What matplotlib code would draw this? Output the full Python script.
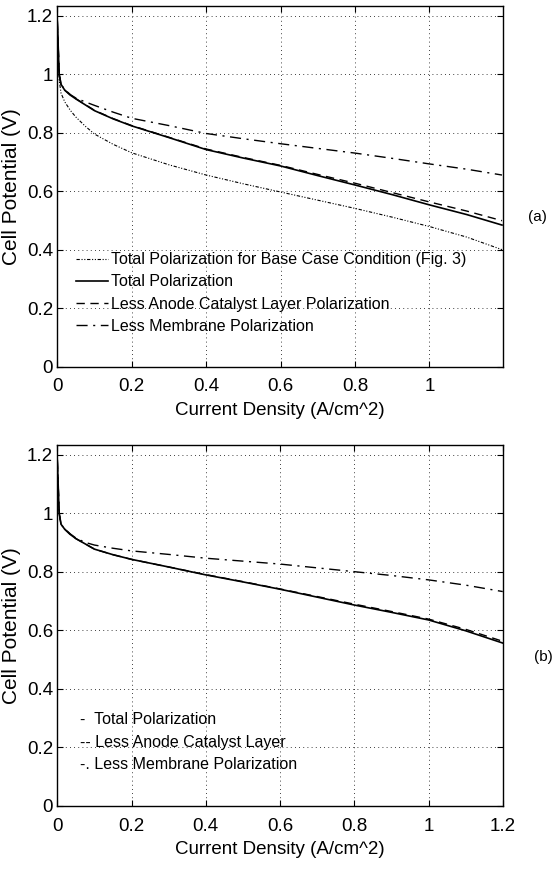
import matplotlib
matplotlib.use("Agg")
import matplotlib.pyplot as plt
import numpy as np

plt.rcParams['font.family'] = ['Liberation Sans', 'DejaVu Sans']

# ---- data ----
# (a)
xa = [0, 0.005, 0.01, 0.02, 0.035, 0.05, 0.075, 0.1, 0.15, 0.2, 0.3, 0.4,
      0.5, 0.6, 0.7, 0.8, 0.9, 1.0, 1.1, 1.195]
base_a = [1.18, 0.98, 0.935, 0.905, 0.876, 0.853, 0.822, 0.795, 0.76, 0.731,
          0.69, 0.655, 0.625, 0.597, 0.569, 0.541, 0.511, 0.479, 0.443, 0.40]
total_a = [1.18, 1.0, 0.965, 0.945, 0.928, 0.915, 0.895, 0.875, 0.847, 0.823,
           0.783, 0.742, 0.713, 0.686, 0.653, 0.621, 0.588, 0.553, 0.52, 0.484]
anode_a = [1.18, 1.0, 0.965, 0.945, 0.929, 0.916, 0.896, 0.876, 0.848, 0.824,
           0.784, 0.744, 0.715, 0.688, 0.657, 0.627, 0.595, 0.563, 0.532, 0.499]
memb_a = [1.18, 1.0, 0.965, 0.947, 0.93, 0.918, 0.905, 0.893, 0.87, 0.849,
          0.824, 0.797, 0.779, 0.762, 0.746, 0.730, 0.712, 0.693, 0.675, 0.655]
labels_a = ['Total Polarization for Base Case Condition (Fig. 3)',
            'Total Polarization',
            'Less Anode Catalyst Layer Polarization',
            'Less Membrane Polarization']

# (b)
xb = [0, 0.005, 0.01, 0.02, 0.035, 0.05, 0.075, 0.1, 0.15, 0.2, 0.3, 0.4,
      0.5, 0.6, 0.7, 0.8, 0.9, 1.0, 1.1, 1.2]
total_b = [1.18, 1.0, 0.962, 0.945, 0.927, 0.913, 0.895, 0.877, 0.858, 0.842,
           0.816, 0.789, 0.765, 0.740, 0.713, 0.686, 0.661, 0.635, 0.598, 0.556]
anode_b = [1.18, 1.0, 0.962, 0.945, 0.927, 0.913, 0.895, 0.877, 0.858, 0.842,
           0.816, 0.790, 0.766, 0.741, 0.715, 0.689, 0.664, 0.638, 0.603, 0.562]
memb_b = [1.18, 1.0, 0.962, 0.946, 0.929, 0.915, 0.90, 0.891, 0.88, 0.871,
          0.859, 0.846, 0.836, 0.826, 0.813, 0.80, 0.787, 0.772, 0.754, 0.732]
labels_b = ['-  Total Polarization',
            '-- Less Anode Catalyst Layer',
            '-. Less Membrane Polarization']

yticks = [0, 0.2, 0.4, 0.6, 0.8, 1, 1.2]
ytick_labels = ['0', '0.2', '0.4', '0.6', '0.8', '1', '1.2']

fig = plt.figure(figsize=(5.57, 8.72), dpi=100)
ax1 = fig.add_axes([0.1029, 0.5795, 0.7997, 0.4137])
ax2 = fig.add_axes([0.1029, 0.0760, 0.7997, 0.4137])


def style(ax, xmax, xticks, xlabels):
    ax.set_xlim(0, xmax)
    ax.set_ylim(0, 1.233)
    ax.set_xticks(xticks)
    ax.set_xticklabels(xlabels)
    ax.set_yticks(yticks)
    ax.set_yticklabels(ytick_labels)
    ax.tick_params(direction='in', top=True, right=True, labelsize=13.5, length=4)
    ax.tick_params(axis='x', pad=8.5)
    ax.tick_params(axis='y', pad=3)
    ax.grid(True, color='black', linestyle=(0, (1, 4)), linewidth=0.6)
    for s in ax.spines.values():
        s.set_linewidth(1.0)
    ax.set_xlabel('Current Density (A/cm^2)', fontsize=13.5, labelpad=5)
    ax.set_ylabel('Cell Potential (V)', fontsize=15)
    ax.yaxis.set_label_coords(-0.082, 0.5)


# (a)
l1, = ax1.plot(xa, base_a, color='black', lw=0.8, ls=(0, (3, 1.5, 1, 1.5, 1, 1.5)))
l2, = ax1.plot(xa, total_a, color='black', lw=1.2, ls='-')
l3, = ax1.plot(xa, anode_a, color='black', lw=1.0, ls=(0, (6, 4)))
l4, = ax1.plot(xa, memb_a, color='black', lw=1.0, ls=(0, (8, 4, 1.5, 4)))
style(ax1, 1.197, [0, 0.2, 0.4, 0.6, 0.8, 1], ['0', '0.2', '0.4', '0.6', '0.8', '1'])
ax1.legend([l1, l2, l3, l4], labels_a, loc='upper left', bbox_to_anchor=(0.027, 0.335),
           frameon=False, fontsize=11.5, handlelength=2.0, handletextpad=0.2,
           labelspacing=0.45, borderaxespad=0)
fig.text(537 / 557, 1 - 217 / 872, '(a)', fontsize=11, ha='center', va='center')

# (b)
ax2.plot(xb, total_b, color='black', lw=1.2, ls='-')
ax2.plot(xb, anode_b, color='black', lw=1.0, ls=(0, (6, 4)))
ax2.plot(xb, memb_b, color='black', lw=1.0, ls=(0, (8, 4, 1.5, 4)))
style(ax2, 1.2, [0, 0.2, 0.4, 0.6, 0.8, 1, 1.2],
      ['0', '0.2', '0.4', '0.6', '0.8', '1', '1.2'])
for i, lab in enumerate(labels_b):
    ax2.text(0.05, 0.238 - i * 0.0625, lab, transform=ax2.transAxes,
             fontsize=11.5, ha='left', va='center')
fig.text(543 / 557, 1 - 657 / 872, '(b)', fontsize=11, ha='center', va='center')

fig.savefig('out.png', dpi=100)
